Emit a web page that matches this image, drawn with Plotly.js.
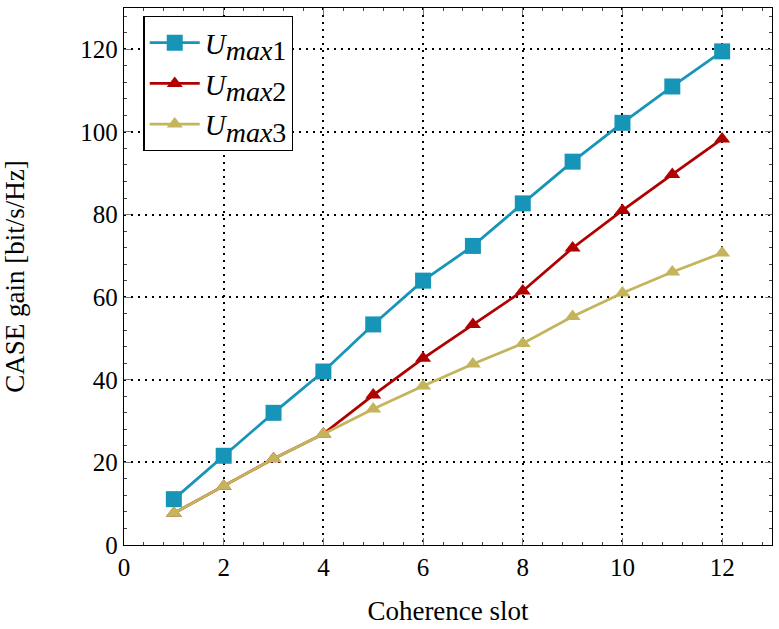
<!DOCTYPE html>
<html>
<head>
<meta charset="utf-8">
<script src="https://cdn.plot.ly/plotly-3.0.1.min.js"></script>
<style>
  html, body { margin: 0; padding: 0; background: #fff; }
  #chart_div { width: 779px; height: 629px; }
</style>
</head>
<body>
<div id="chart_div"></div>
<script>
// coherence slots on the x axis
var slots = [1, 2, 3, 4, 5, 6, 7, 8, 9, 10, 11, 12];

// CASE gain, one list per curve
var umax1 = [11.1, 21.6, 32.0, 42.0, 53.4, 64.0, 72.4, 82.7, 92.8, 102.2, 111.0, 119.5];
var umax2 = [7.7, 14.2, 20.9, 26.9, 36.3, 45.2, 53.4, 61.5, 71.9, 81.0, 89.7, 98.3];
var umax3 = [7.7, 14.2, 20.9, 26.9, 32.9, 38.5, 43.8, 48.8, 55.3, 61.0, 66.1, 70.7];

// legend labels, subscript kept big like the latex original
var names = ['<i>U</i><sub><span style="font-size:28px"><i>max</i>1</span></sub>',
             '<i>U</i><sub><span style="font-size:28px"><i>max</i>2</span></sub>',
             '<i>U</i><sub><span style="font-size:28px"><i>max</i>3</span></sub>'];

var xTicks = [0, 2, 4, 6, 8, 10, 12];
var yTicks = [0, 20, 40, 60, 80, 100, 120];

var serif = '"Liberation Serif", "DejaVu Serif", serif';

function series(y, name, color, symbol, size) {
	return {
		x: slots,
		y: y,
		name: name,
		type: 'scatter',
		mode: 'lines+markers',
		line: { color: color, width: 2.8 },
		marker: { color: color, symbol: symbol, size: size }
	};
}

var data = [
	series(umax1, names[0], '#1795b8', 'square', 16),
	series(umax2, names[1], '#b00000', 'triangle-up', 14),
	series(umax3, names[2], '#c4b55c', 'triangle-up', 14)
];

var axisCommon = {
	showline: true,
	mirror: 'ticks',
	linecolor: '#000',
	linewidth: 1.3,
	ticks: 'inside',
	ticklen: 7,
	tickcolor: '#777',
	showgrid: true,
	gridcolor: '#000',
	gridwidth: 2,
	griddash: '2px,5px',
	zeroline: false,
	tickfont: { family: serif, size: 25, color: '#000' },
	minor: { ticks: 'inside', ticklen: 3, tickcolor: '#444', showgrid: false }
};

var layout = {
	width: 779,
	height: 629,
	margin: { l: 124, r: 7, t: 8, b: 84 },
	paper_bgcolor: '#fff',
	plot_bgcolor: '#fff',
	showlegend: true,
	xaxis: Object.assign({}, axisCommon, {
		range: [0, 13],
		tickvals: xTicks,
		ticktext: xTicks.map(String),
		minor: Object.assign({}, axisCommon.minor, { dtick: 0.4, tick0: 0 }),
		title: { text: 'Coherence slot', font: { family: serif, size: 27, color: '#000' }, standoff: 20 }
	}),
	yaxis: Object.assign({}, axisCommon, {
		range: [0, 130],
		tickvals: yTicks,
		ticktext: yTicks.map(String),
		minor: Object.assign({}, axisCommon.minor, { dtick: 4, tick0: 0 }),
		title: { text: 'CASE gain [bit/s/Hz]', font: { family: serif, size: 27, color: '#000' }, standoff: 48 }
	}),
	legend: {
		x: 0.03,
		y: 0.985,
		xanchor: 'left',
		yanchor: 'top',
		bgcolor: '#fff',
		bordercolor: '#000',
		borderwidth: 1.3,
		font: { family: serif, size: 29, color: '#000' },
		itemwidth: 50,
		tracegroupgap: 0
	}
};

Plotly.newPlot('chart_div', data, layout, { displayModeBar: false, staticPlot: true });
</script>
</body>
</html>
